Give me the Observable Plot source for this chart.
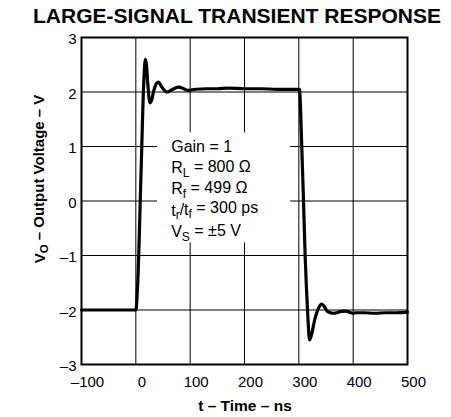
<!DOCTYPE html>
<html>
<head>
<meta charset="utf-8">
<script src="https://cdn.jsdelivr.net/npm/d3@7"></script>
<script src="https://cdn.jsdelivr.net/npm/@observablehq/plot@0.6"></script>
<style>
  html, body { margin: 0; padding: 0; background: #fff; }
  svg { display: block; }
</style>
</head>
<body>
<div id="chart"></div>
<script>
const chartTitle = "LARGE-SIGNAL TRANSIENT RESPONSE";
const xLabel = "t – Time – ns";
const yLabelParts = [["V", false], ["O", true], [" – Output Voltage – V", false]];

const xTicks = [-100, 0, 100, 200, 300, 400, 500];
const yTicks = [-3, -2, -1, 0, 1, 2, 3];

// time (ns) and output voltage (V)
const timeNs = [-100, -50, 0, 3.7, 9.2, 14.7, 17.5, 19.5, 22, 26, 29, 33, 38, 42, 46, 50, 55, 59, 64, 70, 79, 88, 95, 110, 130, 150, 170, 200, 230, 260, 280, 300,
  301.5, 304.4, 308.6, 311.6, 314, 317, 319.7, 322, 330, 337, 342, 347, 352, 358, 364, 370, 376, 386, 393, 399, 405, 420, 440, 460, 480, 500];
const voltsV = [-2.0, -2.0, -2.0, -1.45, 0.38, 2.2, 2.6, 2.5, 2.15, 1.8, 1.85, 2.02, 2.16, 2.18, 2.12, 2.06, 2.01, 2.0, 2.03, 2.06, 2.09, 2.06, 2.03, 2.05, 2.06, 2.06, 2.07, 2.06, 2.06, 2.05, 2.05, 2.05,
  2.04, 1.3, 0.0, -1.0, -1.6, -2.2, -2.55, -2.5, -2.15, -1.95, -1.89, -1.94, -2.02, -2.05, -2.06, -2.05, -2.03, -2.02, -2.04, -2.06, -2.05, -2.05, -2.06, -2.05, -2.05, -2.04];

// white backing box of the annotation (data units)
const boxT = [40, 285];
const boxV = [-0.77, 1.25];

const annotationLines = [
  [["Gain = 1", false]],
  [["R", false], ["L", true], [" = 800 Ω", false]],
  [["R", false], ["f", true], [" = 499 Ω", false]],
  [["t", false], ["r", true], ["/t", false], ["f", true], [" = 300 ps", false]],
  [["V", false], ["S", true], [" = ±5 V", false]]
];

const data = timeNs.map((t, i) => ({t, v: voltsV[i]}));
const boxData = [{x1: boxT[0], x2: boxT[1], y1: boxV[0], y2: boxV[1]}];
const fmt = d => d < 0 ? "–" + Math.abs(d) : String(d);

const plot = Plot.plot({
  width: 451,
  height: 417,
  marginLeft: 81,
  marginRight: 44,
  marginTop: 37,
  marginBottom: 53,
  style: {fontFamily: "'Liberation Sans', Arial, Helvetica, sans-serif", fontSize: "15px", color: "black", background: "white"},
  x: {domain: [-100, 500], ticks: xTicks},
  y: {domain: [-3, 3], ticks: yTicks},
  marks: [
    Plot.gridX(xTicks, {stroke: "black", strokeOpacity: 1, strokeWidth: 1}),
    Plot.gridY(yTicks, {stroke: "black", strokeOpacity: 1, strokeWidth: 1}),
    Plot.rect(boxData, {x1: "x1", x2: "x2", y1: "y1", y2: "y2", fill: "#ffffff", fillOpacity: 1}),
    Plot.axisX(xTicks, {tickSize: 0, tickPadding: 12, tickFormat: fmt, label: null, dx: 6, fontSize: 15}),
    Plot.axisY(yTicks, {tickSize: 0, tickPadding: 5, tickFormat: fmt, label: null, dy: 2, fontSize: 15}),
    Plot.line(data, {x: "t", y: "v", stroke: "black", strokeWidth: 3.2, strokeLinejoin: "round", curve: "monotone-x"}),
    Plot.frame({stroke: "black", strokeWidth: 2})
  ]
});

const svg = d3.select(plot);
const xs = plot.scale("x"), ys = plot.scale("y");
const font = "'Liberation Sans', Arial, Helvetica, sans-serif";

function addParts(textSel, parts, subSize) {
  parts.forEach(([s, sub], i) => {
    const ts = textSel.append("tspan").text(s);
    if (sub) ts.attr("font-size", subSize).attr("dy", "0.3em");
    else if (i > 0 && parts[i - 1][1]) ts.attr("dy", "-0.3em");
  });
}

// annotation block
const ax = xs.apply(66);
const lineVs = [1.0, 0.605, 0.215, -0.18, -0.57];
annotationLines.forEach((parts, i) => {
  const t = svg.append("text")
    .attr("x", ax).attr("y", ys.apply(lineVs[i]) + 5.5).attr("text-anchor", "start")
    .attr("font-family", font).attr("font-size", 16).attr("fill", "black");
  addParts(t, parts, 12);
});

// title
svg.append("text").attr("x", 237).attr("y", 23).attr("text-anchor", "middle")
  .attr("font-family", font).attr("font-size", 21).attr("font-weight", "bold").text(chartTitle);

// x label
svg.append("text").attr("x", 245).attr("y", 410.5).attr("text-anchor", "middle")
  .attr("font-family", font).attr("font-size", 15.5).attr("font-weight", "bold").text(xLabel);

// y label
const yl = svg.append("text").attr("transform", "translate(45,179) rotate(-90)").attr("text-anchor", "middle")
  .attr("font-family", font).attr("font-size", 15).attr("font-weight", "bold");
addParts(yl, yLabelParts, 11.5);

document.getElementById("chart").appendChild(plot);
</script>
</body>
</html>
